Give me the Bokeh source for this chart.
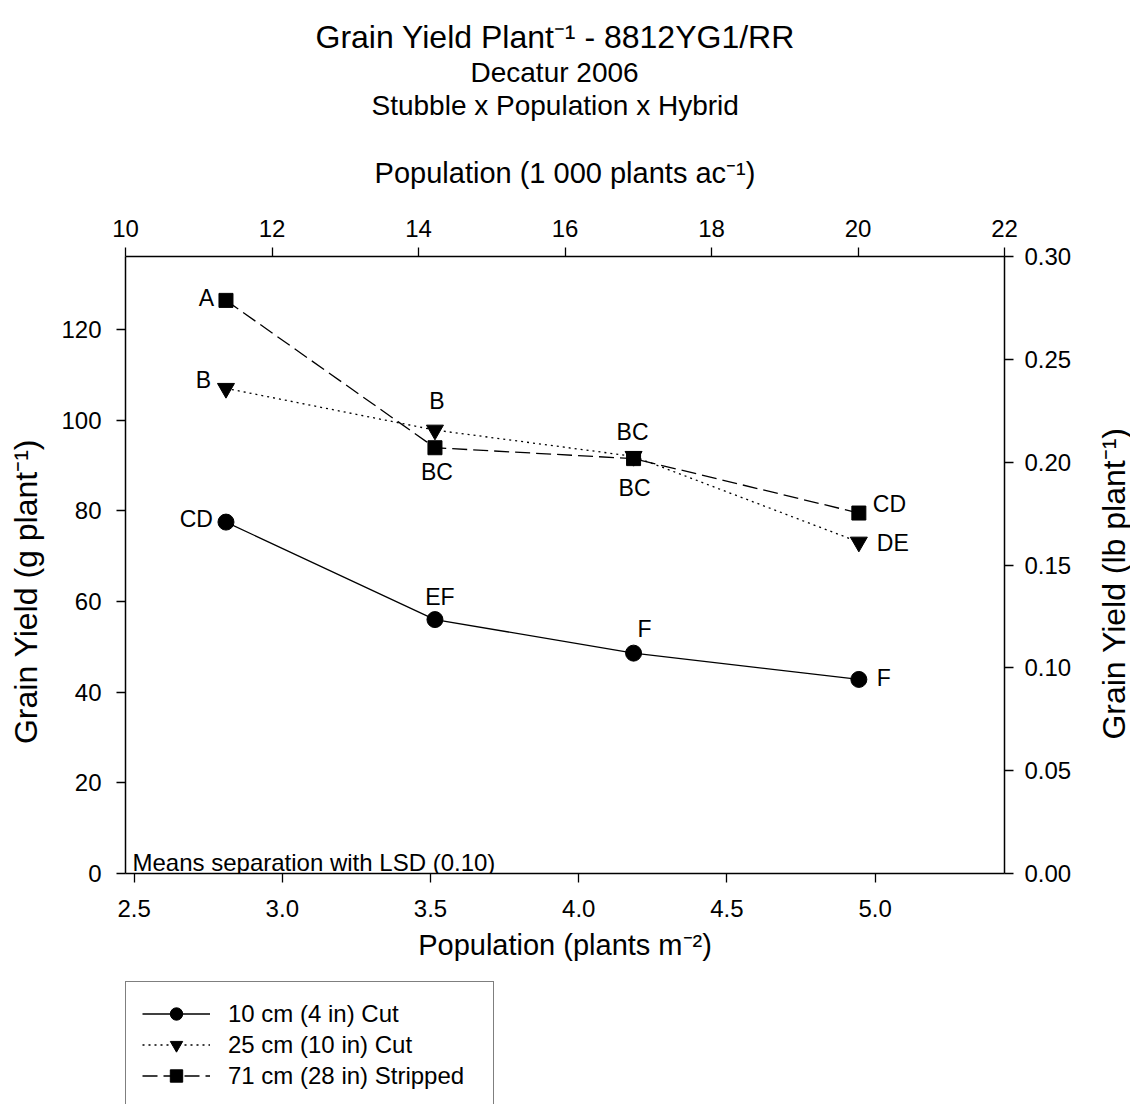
import math
from bokeh.plotting import figure
from bokeh.layouts import row, column
from bokeh.models import (Range1d, LinearAxis, FixedTicker, PrintfTickFormatter,
                          Label, Legend, LegendItem, ColumnDataSource, Title)
from bokeh.core.properties import value
from bokeh.embed import file_html
from bokeh.resources import INLINE

# ---------------- data ----------------
population_m2 = [2.81, 3.515, 4.185, 4.945]          # plants m^-2
cut10_g = [77.5, 56.0, 48.6, 42.8]                    # 10 cm (4 in) Cut
cut25_g = [107.0, 97.8, 92.0, 73.1]                   # 25 cm (10 in) Cut
stripped71_g = [126.4, 93.9, 91.5, 79.5]              # 71 cm (28 in) Stripped
cut10_letters = ["CD", "EF", "F", "F"]
cut25_letters = ["B", "B", "BC", "DE"]
stripped71_letters = ["A", "BC", "BC", "CD"]
series_names = ["10 cm (4 in) Cut", "25 cm (10 in) Cut", "71 cm (28 in) Stripped"]

x_ticks_m2 = [2.5, 3.0, 3.5, 4.0, 4.5, 5.0]
x_ticks_ac = [10, 12, 14, 16, 18, 20, 22]
y_ticks_g = [0, 20, 40, 60, 80, 100, 120]
y_ticks_lb = [0.00, 0.05, 0.10, 0.15, 0.20, 0.25, 0.30]

title_main = "Grain Yield Plant\u207b\u00b9 - 8812YG1/RR"
title_sub1 = "Decatur 2006"
title_sub2 = "Stubble x Population x Hybrid"
x_label_bottom = "Population (plants m\u207b\u00b2)"
x_label_top = "Population (1 000 plants ac\u207b\u00b9)"
y_label_left = "Grain Yield (g plant\u207b\u00b9)"
y_label_right = "Grain Yield (lb plant\u207b\u00b9)"
note_text = "Means separation with LSD (0.10)"

M2_PER_ACRE = 4046.856
G_PER_LB = 453.592

# ---------------- label placement (styles, not data) ----------------
cut10_lab = dict(align=["right", "center", "center", "left"], dx=[-13, 5, 11, 18], dy=[-3, -23, -24, -1])
cut25_lab = dict(align=["right", "center", "center", "left"], dx=[-15, 2, -1, 18], dy=[-8, -29, -24, 1])
strip_lab = dict(align=["right", "center", "center", "left"], dx=[-12, 2, 1, 14], dy=[-2, 24, 29, -9])

FONT = "Liberation Sans"

# layout geometry (px)
LEFT_W, MAIN_L, FRAME_W, MAIN_R = 50, 75, 879, 70
TOP, FRAME_H, MAIN_B = 256, 617, 105
MAIN_W = MAIN_L + FRAME_W + MAIN_R
MAIN_H = TOP + FRAME_H + MAIN_B
TOTAL_W, TOTAL_H = 1130, 1104
RIGHT_W = TOTAL_W - LEFT_W - MAIN_W
LEG_H = TOTAL_H - MAIN_H

p = figure(frame_width=FRAME_W, frame_height=FRAME_H, output_backend="svg", toolbar_location=None,
           x_range=Range1d(x_ticks_ac[0] * 1000 / M2_PER_ACRE, x_ticks_ac[-1] * 1000 / M2_PER_ACRE),
           y_range=Range1d(0, y_ticks_lb[-1] * G_PER_LB),
           min_border_left=MAIN_L, min_border_top=TOP,
           min_border_right=MAIN_R, min_border_bottom=MAIN_B)
p.outline_line_color = None
p.grid.visible = False
p.background_fill_color = "white"
p.border_fill_color = "white"

p.extra_x_ranges = {"ac": Range1d(x_ticks_ac[0], x_ticks_ac[-1])}
p.extra_y_ranges = {"lb": Range1d(y_ticks_lb[0], y_ticks_lb[-1])}

top_axis = LinearAxis(x_range_name="ac")
right_axis = LinearAxis(y_range_name="lb")
p.add_layout(top_axis, "above")
p.add_layout(right_axis, "right")

bottom_axis = p.below[0]
left_axis = p.left[0]
bottom_axis.ticker = FixedTicker(ticks=x_ticks_m2)
bottom_axis.formatter = PrintfTickFormatter(format="%.1f")
top_axis.ticker = FixedTicker(ticks=x_ticks_ac)
top_axis.formatter = PrintfTickFormatter(format="%d")
left_axis.ticker = FixedTicker(ticks=y_ticks_g)
left_axis.formatter = PrintfTickFormatter(format="%d")
right_axis.ticker = FixedTicker(ticks=y_ticks_lb)
right_axis.formatter = PrintfTickFormatter(format="%.2f")

for ax in (bottom_axis, top_axis, left_axis, right_axis):
    ax.axis_line_color = "black"
    ax.axis_line_width = 1.5
    ax.major_tick_line_color = "black"
    ax.major_tick_line_width = 1.3
    ax.major_tick_out = 9
    ax.major_tick_in = 0
    ax.minor_tick_line_color = None
    ax.major_label_text_font = FONT
    ax.major_label_text_font_size = "24px"
    ax.major_label_text_color = "black"
    ax.axis_label_text_font = FONT
    ax.axis_label_text_font_style = "normal"
    ax.axis_label_text_color = "black"

left_axis.major_label_standoff = 15
right_axis.major_label_standoff = 11
bottom_axis.major_label_standoff = 17
top_axis.major_label_standoff = 11

bottom_axis.axis_label = x_label_bottom
bottom_axis.axis_label_text_font_size = "29px"
bottom_axis.axis_label_standoff = 9
top_axis.axis_label = x_label_top
top_axis.axis_label_text_font_size = "29px"
top_axis.axis_label_standoff = 28

# ---------------- titles (stacked above the top axis) ----------------
p.add_layout(Title(text="\u00a0", text_font_size="1px", standoff=30), "above")   # spacer
p.add_layout(Title(text=title_sub2, text_font=FONT, text_font_size="28px", text_font_style="normal",
                   text_color="black", align="left", offset=246, standoff=0), "above")
p.add_layout(Title(text=title_sub1, text_font=FONT, text_font_size="28px", text_font_style="normal",
                   text_color="black", align="left", offset=345, standoff=0), "above")
p.add_layout(Title(text=title_main, text_font=FONT, text_font_size="32px", text_font_style="normal",
                   text_color="black", align="left", offset=190, standoff=0), "above")

# ---------------- series ----------------
styles = [
    (cut10_g, cut10_letters, cut10_lab, "solid", "circle", 16),
    (cut25_g, cut25_letters, cut25_lab, "2 4", "inverted_triangle", 17),
    (stripped71_g, stripped71_letters, strip_lab, "15 6", "square", 14),
]
sources = []
for (vals, letters, lab, dash, marker, size) in styles:
    src = ColumnDataSource(dict(x=population_m2, y=vals, t=letters,
                                align=lab["align"], dx=lab["dx"], dy=lab["dy"]))
    sources.append(src)
    p.line("x", "y", source=src, line_color="black", line_width=1.3, line_dash=dash)
    p.scatter("x", "y", source=src, marker=marker, size=size,
              fill_color="black", line_color="black")
    p.text("x", "y", text="t", source=src, x_offset="dx", y_offset="dy",
           text_align="align", text_baseline="middle",
           text_font=value(FONT), text_font_size="23px", text_color="black")

p.add_layout(Label(x=7, y=11, x_units="screen", y_units="screen", text=note_text,
                   text_font=FONT, text_font_size="24px", text_color="black",
                   text_align="left", text_baseline="alphabetic"))


# ---------------- side strips carrying the vertical axis titles ----------------
def strip(width, height):
    f = figure(width=width, height=height, output_backend="svg", toolbar_location=None,
               x_range=Range1d(0, 1), y_range=Range1d(0, 1), x_axis_type=None, y_axis_type=None,
               min_border=0)
    f.outline_line_color = None
    f.grid.visible = False
    return f


p_left = strip(LEFT_W, MAIN_H)
p_left.add_layout(Label(x=25, y=MAIN_H - 591, x_units="screen", y_units="screen", text=y_label_left,
                        text_font=FONT, text_font_size="32px", text_color="black",
                        text_align="center", text_baseline="middle", angle=math.pi / 2))
p_right = strip(RIGHT_W, MAIN_H)
p_right.add_layout(Label(x=1113 - LEFT_W - MAIN_W, y=MAIN_H - 583, x_units="screen", y_units="screen",
                         text=y_label_right, text_font=FONT, text_font_size="32px", text_color="black",
                         text_align="center", text_baseline="middle", angle=math.pi / 2))

# ---------------- legend strip under the chart ----------------
# (the strip's 0..1 ranges keep the series' own marks out of view; only the legend shows)
p_leg = strip(MAIN_W, LEG_H)
items = []
for (vals, letters, lab, dash, marker, size), name, src in zip(styles, series_names, sources):
    ln = p_leg.line("x", "y", source=src, line_color="black", line_width=1.3, line_dash=dash)
    sc = p_leg.scatter("x", "y", source=src, marker=marker, size=size,
                       fill_color="black", line_color="black")
    items.append(LegendItem(label=name, renderers=[ln, sc]))
legend = Legend(items=items, location=(0, -4), orientation="vertical",
                padding=16, spacing=0, margin=0, glyph_width=68, glyph_height=31,
                label_height=31, label_width=249, label_standoff=18,
                label_text_font=FONT, label_text_font_size="24px", label_text_color="black",
                border_line_color="black", border_line_width=1.5,
                background_fill_color="white", background_fill_alpha=1.0)
p_leg.add_layout(legend, "center")

root = row(p_left, column(p, p_leg), p_right)
open("out.html", "w").write(file_html(root, INLINE))
